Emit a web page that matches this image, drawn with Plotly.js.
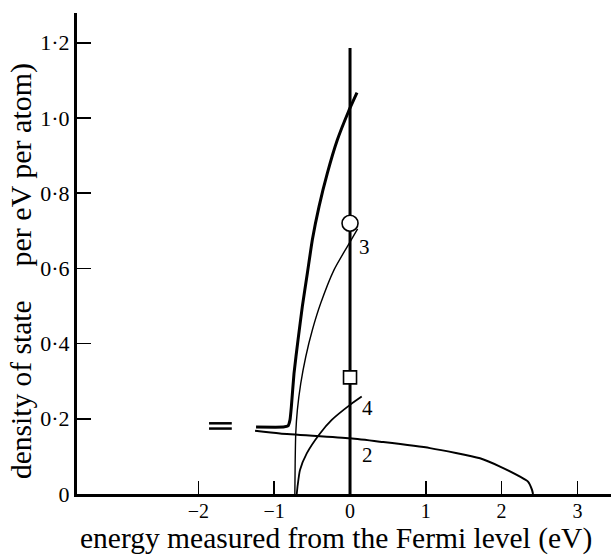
<!DOCTYPE html>
<html>
<head>
<meta charset="utf-8">
<script src="https://cdn.plot.ly/plotly-3.0.1.min.js"></script>
<style>html,body{margin:0;padding:0;background:#fff;}</style>
</head>
<body>
<div id="chart" style="width:611px;height:555px;"></div>
<script>
// Curve 1 (thick): total density of states
const c1X = [-1.24, -0.88, -0.818, -0.792, -0.774, -0.739, -0.686, -0.629, -0.563, -0.497, -0.409, -0.299, -0.168, -0.02, 0.092];
const c1Y = [0.178, 0.178, 0.181, 0.197, 0.232, 0.321, 0.410, 0.499, 0.587, 0.676, 0.764, 0.853, 0.941, 1.017, 1.067];
// Curve 2
const c2X = [-1.253, -0.923, 0, 0.396, 1.055, 1.715, 1.979, 2.243, 2.348, 2.401, 2.414];
const c2Y = [0.168, 0.161, 0.148, 0.139, 0.122, 0.095, 0.073, 0.046, 0.033, 0.011, 0];
// Curve 3
const c3X = [-0.728, -0.724, -0.716, -0.695, -0.65, -0.584, -0.497, -0.387, -0.211, -0.036, 0.1];
const c3Y = [0, 0.08, 0.161, 0.223, 0.294, 0.365, 0.436, 0.507, 0.596, 0.658, 0.705];
// Curve 4
const c4X = [-0.703, -0.69, -0.66, -0.571, -0.396, -0.241, 0, 0.154];
const c4Y = [0, 0.024, 0.064, 0.108, 0.161, 0.197, 0.237, 0.259];
// Fermi level line and markers
const fermiX = [0, 0];
const fermiY = [0, 1.186];
const circleX = [0], circleY = [0.72];
const squareX = [0], squareY = [0.31];
// Axis break symbol
const brkX = [-1.86, -1.56];
const brkY1 = [0.188, 0.188];
const brkY2 = [0.174, 0.174];
// Curve labels
const labelText = ['3', '4', '2'];
const labelX = [0.185, 0.237, 0.237];
const labelY = [0.657, 0.229, 0.104];
// Ticks
const xTickVals = [-2, -1, 0, 1, 2, 3];
const xTickText = ['\u22122', '\u22121', '0', '1', '2', '3'];
const yTickVals = [0, 0.2, 0.4, 0.6, 0.8, 1.0, 1.2];
const yTickText = ['0', '0\u00b72', '0\u00b74', '0\u00b76', '0\u00b78', '1\u00b70', '1\u00b72'];

const serif = 'Liberation Serif, Times New Roman, serif';
const blk = '#000';

const traces = [
  {x: fermiX, y: fermiY, mode: 'lines', line: {color: blk, width: 3}},
  {x: c2X, y: c2Y, mode: 'lines', line: {color: blk, width: 2, shape: 'spline', smoothing: 0.6}},
  {x: c3X, y: c3Y, mode: 'lines', line: {color: blk, width: 1.4, shape: 'spline', smoothing: 0.6}},
  {x: c4X, y: c4Y, mode: 'lines', line: {color: blk, width: 1.8, shape: 'spline', smoothing: 0.6}},
  {x: c1X, y: c1Y, mode: 'lines', line: {color: blk, width: 3, shape: 'spline', smoothing: 0.4}},
  {x: brkX, y: brkY1, mode: 'lines', line: {color: blk, width: 2.5}},
  {x: brkX, y: brkY2, mode: 'lines', line: {color: blk, width: 2.5}},
  {x: circleX, y: circleY, mode: 'markers', marker: {symbol: 'circle', size: 16, color: '#fff', line: {color: blk, width: 1.6}}},
  {x: squareX, y: squareY, mode: 'markers', marker: {symbol: 'square', size: 13, color: '#fff', line: {color: blk, width: 1.6}}}
];

const annotations = labelText.map((t, i) => ({
  x: labelX[i], y: labelY[i], xref: 'x', yref: 'y', text: t, showarrow: false,
  font: {family: serif, size: 21, color: blk}, xanchor: 'center', yanchor: 'middle'
}));
annotations.push({
  x: -0.105, y: 0.218, xref: 'paper', yref: 'paper', text: 'density of state', textangle: -90,
  showarrow: false, font: {family: serif, size: 29.5, color: blk}, xanchor: 'center', yanchor: 'middle'
});
annotations.push({
  x: -0.105, y: 0.685, xref: 'paper', yref: 'paper', text: 'per eV per atom)', textangle: -90,
  showarrow: false, font: {family: serif, size: 30, color: blk}, xanchor: 'center', yanchor: 'middle'
});
annotations.push({
  x: 0.485, y: -0.0915, xref: 'paper', yref: 'paper', text: 'energy measured from the Fermi level (eV)',
  showarrow: false, font: {family: serif, size: 29.5, color: blk}, xanchor: 'center', yanchor: 'middle'
});

const layout = {
  width: 611, height: 555,
  margin: {l: 77, r: 0, t: 13, b: 61},
  paper_bgcolor: '#fff', plot_bgcolor: '#fff',
  showlegend: false,
  xaxis: {
    range: [-3.602, 3.443], showgrid: false, zeroline: false,
    showline: true, linecolor: blk, linewidth: 2.5,
    ticks: 'inside', ticklen: 13, tickwidth: 1.6, tickcolor: blk,
    tickvals: xTickVals, ticktext: xTickText, ticklabelstandoff: -3,
    tickfont: {family: serif, size: 20, color: blk}
  },
  yaxis: {
    range: [0, 1.279], showgrid: false, zeroline: false,
    showline: true, linecolor: blk, linewidth: 3,
    ticks: 'inside', ticklen: 14, tickwidth: 1.6, tickcolor: blk,
    tickvals: yTickVals, ticktext: yTickText,
    tickfont: {family: serif, size: 22, color: blk}
  },
  annotations: annotations
};

Plotly.newPlot('chart', traces, layout, {displayModeBar: false, staticPlot: true});
</script>
</body>
</html>
